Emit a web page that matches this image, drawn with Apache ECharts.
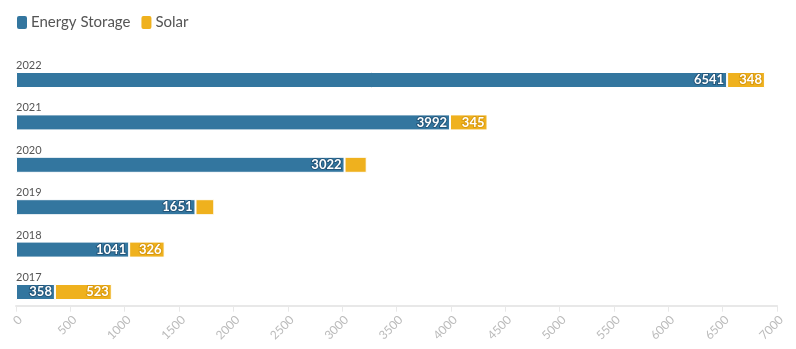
<!DOCTYPE html>
<html>
<head>
<meta charset="utf-8">
<script src="https://cdn.jsdelivr.net/npm/echarts@6/dist/echarts.min.js"></script>
<style>
  html, body { margin: 0; padding: 0; background: #fff; }
  #chart { width: 796px; height: 349px; }
</style>
</head>
<body>
<div id="chart"></div>
<script>
// Yearly capacity by segment
const years = ['2017', '2018', '2019', '2020', '2021', '2022'];
const energyStorage = [358, 1041, 1651, 3022, 3992, 6541];
const solar = [523, 326, 173, 204, 345, 348];

const blue = '#33769f';
const yellow = '#efb11e';

// Only print a value when its segment is wide enough to hold it
function withLabels(values) {
  return values.map(v => ({ value: v, label: { show: v >= 300 } }));
}

const chart = echarts.init(document.getElementById('chart'));
chart.setOption({
  animation: false,
  textStyle: { fontFamily: 'Lato, "Noto Sans", sans-serif' },
  legend: {
    left: 10,
    top: 9,
    icon: 'roundRect',
    itemWidth: 12,
    itemHeight: 15,
    itemGap: 9,
    textStyle: { fontSize: 15, color: '#555', padding: [0, 0, 0, -2] },
    data: ['Energy Storage', 'Solar']
  },
  grid: { left: 16, right: 19, top: 58.8, height: 254.4, containLabel: false },
  xAxis: {
    type: 'value',
    min: 0,
    max: 7000,
    interval: 500,
    offset: -7.5,
    splitLine: { show: false },
    axisLine: { show: true, lineStyle: { color: '#e8e8e8', width: 2 } },
    axisTick: { show: true, length: 6, lineStyle: { color: '#e8e8e8' } },
    axisLabel: {
      rotate: 45,
      color: '#bbb',
      fontSize: 12,
      margin: 8,
      verticalAlign: 'top',
      formatter: v => String(v)
    }
  },
  yAxis: {
    type: 'category',
    data: years,
    axisLine: { show: false },
    axisTick: { show: false },
    axisLabel: {
      inside: true,
      margin: 0,
      color: '#555',
      fontSize: 11,
      verticalAlign: 'bottom',
      padding: [0, 0, 9, 0]
    }
  },
  series: [
    {
      name: 'Energy Storage',
      type: 'bar',
      stack: 'total',
      barWidth: 16,
      data: withLabels(energyStorage),
      itemStyle: { color: blue, borderColor: '#fff', borderWidth: 1 },
      label: {
        position: 'insideRight',
        distance: 3,
        color: '#fff',
        fontWeight: 'bold',
        fontSize: 13,
        textBorderColor: '#24567a',
        textBorderWidth: 2
      }
    },
    {
      name: 'Solar',
      type: 'bar',
      stack: 'total',
      barWidth: 16,
      data: withLabels(solar),
      itemStyle: { color: yellow, borderColor: '#fff', borderWidth: 1 },
      label: {
        position: 'insideRight',
        distance: 3,
        color: '#fff',
        fontWeight: 'bold',
        fontSize: 13,
        textBorderColor: '#d99a10',
        textBorderWidth: 2
      }
    }
  ]
});
</script>
</body>
</html>
